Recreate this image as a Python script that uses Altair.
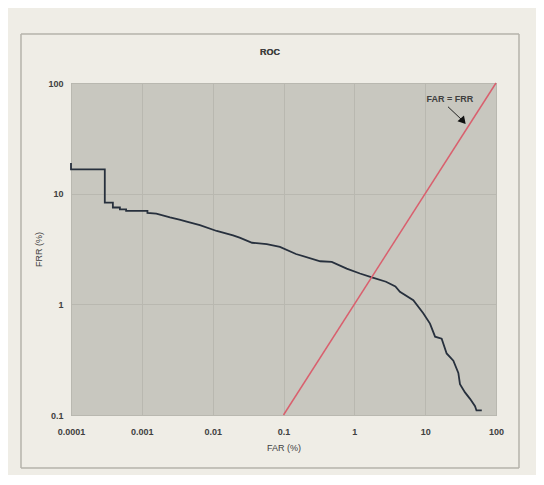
import altair as alt
import pandas as pd

# ROC curve (FAR %, FRR %)
far = [0.0001, 0.0001, 0.0003, 0.0003, 0.00039, 0.00039, 0.00049, 0.00049, 0.0006, 0.0006,
       0.0012, 0.0012, 0.0016, 0.0025, 0.0035, 0.0043, 0.0066, 0.0114, 0.0194, 0.024,
       0.036, 0.058, 0.089, 0.15, 0.33, 0.48, 0.78, 1.2, 1.77, 2.8,
       3.8, 4.4, 6.8, 9.4, 11.7, 13.8, 17.1, 20.1, 25, 29.4,
       31, 36.5, 43, 50.6, 53, 63]
frr = [18.9, 16.6, 16.6, 8.3, 8.3, 7.5, 7.5, 7.2, 7.2, 7.0,
       7.0, 6.7, 6.6, 6.1, 5.8, 5.6, 5.2, 4.6, 4.2, 4.0,
       3.6, 3.5, 3.3, 2.85, 2.45, 2.42, 2.1, 1.9, 1.75, 1.6,
       1.45, 1.3, 1.09, 0.83, 0.67, 0.51, 0.49, 0.36, 0.31, 0.24,
       0.19, 0.16, 0.14, 0.12, 0.11, 0.11]

# FAR = FRR reference line
eq_far = [0.1, 100]
eq_frr = [0.1, 100]

x_ticks = [0.0001, 0.001, 0.01, 0.1, 1, 10, 100]
y_ticks = [0.1, 1, 10, 100]

# annotation
label_text = ["FAR = FRR"]
label_far = [22.4]
label_frr = [72]
arrow_far = [21, 33.5]
arrow_frr = [61, 46]

roc = pd.DataFrame({"far": far, "frr": frr, "i": range(len(far))})
eq = pd.DataFrame({"far": eq_far, "frr": eq_frr})
lab = pd.DataFrame({"far": label_far, "frr": label_frr, "t": label_text})
arr = pd.DataFrame({"far": [arrow_far[0]], "frr": [arrow_frr[0]],
                    "far2": [arrow_far[1]], "frr2": [arrow_frr[1]]})
tip = pd.DataFrame({"far": [arrow_far[1]], "frr": [arrow_frr[1]]})

FONT = "Liberation Sans"
TXT = "#404040"

xs = alt.Scale(type="log", domain=[0.0001, 100], nice=False)
ys = alt.Scale(type="log", domain=[0.1, 100], nice=False)

xax = alt.Axis(values=x_ticks, format="~g", title="FAR (%)", grid=True, ticks=False,
               domain=False, labelPadding=12, titlePadding=7, labelFontSize=9,
               titleFontSize=9, labelFont=FONT, titleFont=FONT, labelColor=TXT,
               titleColor=TXT, titleFontWeight="normal", labelFontWeight="bold",
               labelFlush=False)
yax = alt.Axis(values=y_ticks, format="~g", title="FRR (%)", grid=True, ticks=False,
               domain=False, labelPadding=8, titlePadding=4, labelFontSize=9,
               titleFontSize=9, labelFont=FONT, titleFont=FONT, labelColor=TXT,
               titleColor=TXT, titleFontWeight="normal", labelFontWeight="bold",
               labelFlush=False)

base = alt.Chart(roc)

curve = base.mark_line(color="#27303d", strokeWidth=1.8, strokeJoin="miter").encode(
    x=alt.X("far:Q", scale=xs, axis=xax),
    y=alt.Y("frr:Q", scale=ys, axis=yax),
    order="i:Q",
)

eqline = alt.Chart(eq).mark_line(color="#d9606e", strokeWidth=1.5).encode(
    x=alt.X("far:Q", scale=xs), y=alt.Y("frr:Q", scale=ys)
)

label = alt.Chart(lab).mark_text(font=FONT, fontSize=9, fontWeight="bold", color=TXT).encode(
    x=alt.X("far:Q", scale=xs), y=alt.Y("frr:Q", scale=ys), text="t:N"
)

arrow = alt.Chart(arr).mark_rule(color="#222222", strokeWidth=1).encode(
    x=alt.X("far:Q", scale=xs), y=alt.Y("frr:Q", scale=ys), x2="far2:Q", y2="frr2:Q"
)

head = alt.Chart(tip).mark_point(shape="triangle", filled=True, color="#111111",
                                 size=75, angle=139, opacity=1).encode(
    x=alt.X("far:Q", scale=xs), y=alt.Y("frr:Q", scale=ys)
)

frame = alt.Chart(eq).mark_rect(fill=None, stroke="#b5b3ab", strokeWidth=1).encode(
    x=alt.value(-50), x2=alt.value(448), y=alt.value(-49), y2=alt.value(385)
)

title = alt.Chart(eq).mark_text(text="ROC", font=FONT, fontSize=9, fontWeight="bold",
                                color=TXT).encode(
    x=alt.value(199), y=alt.value(-31)
)

chart = alt.layer(frame, title, curve, eqline, arrow, head, label).properties(
    width=425, height=332,
    autosize=alt.AutoSizeParams(type="none"),
    padding={"left": 63, "top": 75, "right": 40, "bottom": 60},
).configure(background="#efede6").configure_view(
    fill="#c8c7bf", stroke="#9f9e97", strokeWidth=1
).configure_axis(gridColor="#b9b8b0", gridWidth=1)

chart.save("out.html", embed_options={"renderer": "svg", "actions": False})
